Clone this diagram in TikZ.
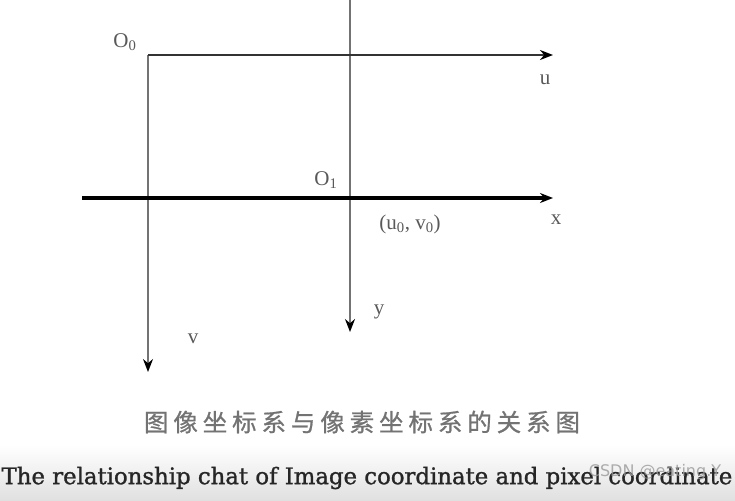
\documentclass[tikz,border=0pt]{standalone}
\usepackage{fontspec}
\setmainfont{Liberation Serif}
\newfontfamily\capfont[FakeBold=1.2]{DejaVu Serif}
\newfontfamily\cjk[LetterSpace=20, FakeBold=0.8]{Noto Sans CJK SC}
\newfontfamily\markfont{DejaVu Sans}
\usetikzlibrary{arrows.meta, calc}

\begin{document}
\begin{tikzpicture}[x=1pt, y=-1pt]
%
% Skiss:
%  O0 ------------------> u
%   |        |
%   |  ------O1---------> x
%   |        |
%   |        V y
%   V v
%
\tikzstyle{axisthick} = [line width=4pt, black]
\tikzstyle{axisu} = [line width=2.5pt, black!80]
\tikzstyle{axisthin} = [line width=1.6pt, black!55]
\tikzstyle{arrow} = [-{Stealth[length=13pt, width=10pt, black]}]
\tikzstyle{lbl} = [text=black!65, font=\fontsize{21}{23}\selectfont, inner sep=0pt]
\useasboundingbox (0,0) rectangle (735,500);
\shade[top color=white, bottom color=black!12] (0,445) rectangle (735,500);
% Coordinates
\coordinate (o0) at (148,55);
\coordinate (uend) at (553,55);
\coordinate (vend) at (148,372);
\coordinate (xstart) at (82,198);
\coordinate (xend) at (553,198);
\coordinate (ytop) at (350,0);
\coordinate (yend) at (350,332);
% Nodes
\node (labO0) [lbl] at (125,42) {O\textsubscript{0}};
\node (labU) [lbl] at (545,80) {u};
\node (labO1) [lbl] at (326,180) {O\textsubscript{1}};
\node (labUV) [lbl] at (410,224) {(u\textsubscript{0}, v\textsubscript{0})};
\node (labX) [lbl] at (556,220) {x};
\node (labY) [lbl] at (379,312) {y};
\node (labV) [lbl] at (193,339) {v};
\node (capCN) [text=black!55, inner sep=0pt] at (362,422) {\cjk\fontsize{24.5}{26}\selectfont 图像坐标系与像素坐标系的关系图};
\node (capEN) [text=black!85, inner sep=0pt] at (367,478) {\capfont\fontsize{22.8}{25}\selectfont The relationship chat of Image coordinate and pixel coordinate};
\node (mark) [text=black!40, opacity=0.8, inner sep=0pt] at (655,472) {\markfont\fontsize{16}{18}\selectfont CSDN @eating.Y};

% Arrows
\draw [axisthin, arrow] (o0) -- (vend);
\draw [axisthin, arrow] (ytop) -- (yend);
\draw [axisu, arrow] (o0) -- (uend);
\draw [axisthick, arrow] (xstart) -- (xend);

\end{tikzpicture}
\end{document}
